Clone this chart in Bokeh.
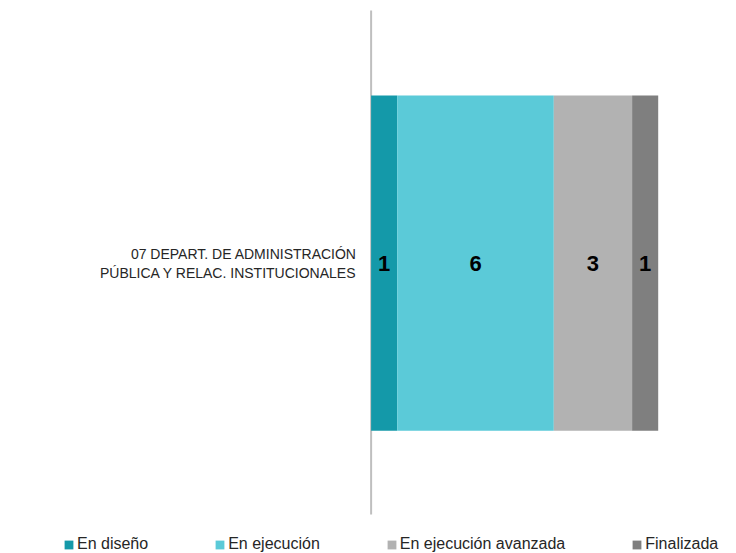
from bokeh.plotting import figure
from bokeh.models import ColumnDataSource, Legend, LegendItem, Range1d
from bokeh.core.properties import value
from bokeh.embed import file_html
from bokeh.resources import INLINE

category = ["07 DEPART. DE ADMINISTRACIÓN\nPÚBLICA Y RELAC. INSTITUCIONALES"]
series = ["En diseño", "En ejecución", "En ejecución avanzada", "Finalizada"]
values = [1, 6, 3, 1]
colors = ["#1499A9", "#5BCAD8", "#B2B2B2", "#7F7F7F"]

FONT = "Liberation Sans"

lefts, rights, mids = [], [], []
acc = 0
for v in values:
    lefts.append(acc)
    rights.append(acc + v)
    mids.append(acc + v / 2)
    acc += v

# vertical position of the single category within a 0..1 plot range
yc = 0.525
bar_h = 0.606

src = ColumnDataSource(dict(
    left=lefts, right=rights, mid=mids, y=[yc] * len(values),
    color=colors, label=[str(v) for v in values],
))

W, H = 736, 553
p = figure(width=W, height=H, output_backend="svg", toolbar_location=None,
           x_range=Range1d(-14.2, 14.0), y_range=Range1d(0, 1),
           min_border=0, min_border_left=0, min_border_right=0,
           min_border_top=0, min_border_bottom=0)
p.outline_line_color = None
p.xgrid.visible = False
p.ygrid.visible = False
p.xaxis.visible = False
p.yaxis.visible = False

# category axis line
p.segment(x0=[0], y0=[0.0705], x1=[0], y1=[0.982], line_color="#BFBFBF", line_width=2)

bars = p.hbar(y="y", left="left", right="right", height=bar_h, color="color",
              line_color=None, source=src)

p.text(x="mid", y="y", text="label", source=src, text_align="center",
       text_baseline="middle", text_font=value(FONT), text_font_style="bold",
       text_font_size="22px", text_color="#000000")

# category label
p.text(x=[-0.55], y=[yc], text=category, text_align="right", text_baseline="middle",
       text_font=value(FONT), text_font_size="14px", text_color="#262626",
       text_line_height=1.2)

items = [LegendItem(label=s, renderers=[bars], index=i) for i, s in enumerate(series)]
legend = Legend(items=items, orientation="horizontal", location=(63, 0),
                spacing=66, padding=0, margin=0, glyph_width=11, glyph_height=11,
                label_standoff=3, border_line_color=None, background_fill_alpha=0,
                label_text_font=FONT, label_text_font_size="16px",
                label_text_color="#262626")
p.add_layout(legend, "center")

open("out.html", "w").write(file_html(p, INLINE))
